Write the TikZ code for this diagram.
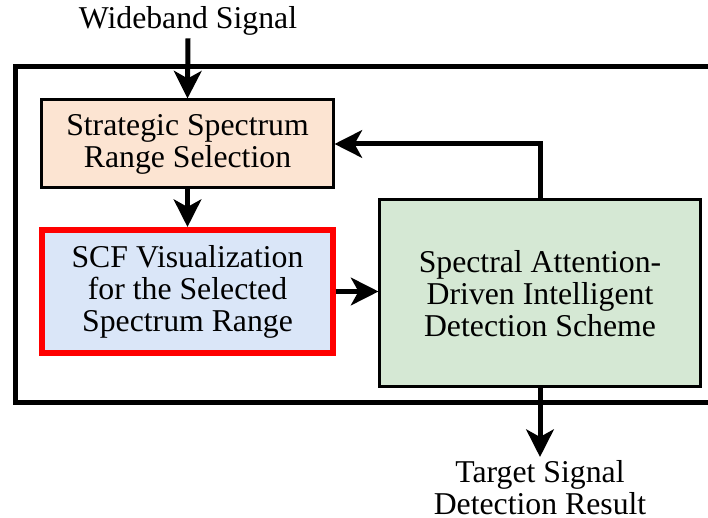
\documentclass[tikz,border=0pt]{standalone}
\usepackage{fontspec}
\setmainfont{Liberation Serif}
\usetikzlibrary{arrows.meta,shadows}
\definecolor{rangefill}{HTML}{FCE4D2}
\definecolor{scffill}{HTML}{DAE6F8}
\definecolor{detfill}{HTML}{D5E8D4}
\tikzset{
    blockbox/.style={draw=black, line width=1.2pt, align=center, inner sep=0pt,
        font=\fontsize{12.7}{12.8}\selectfont},
    arr/.style={line width=2pt, -{Stealth[length=11pt, width=11pt, inset=3pt]}},
    lbl/.style={align=center, inner sep=1pt, font=\fontsize{12.7}{12.8}\selectfont}
}
\begin{document}
\begin{tikzpicture}[x=0.4pt, y=-0.4pt]
    \useasboundingbox (0,0) rectangle (708,518);
    \clip (0,0) rectangle (708,518);
    % outer frame
    \draw[line width=2pt] (15,67) rectangle (740,403);
    % blocks
    \node[blockbox, fill=rangefill, minimum width=116.4pt, minimum height=35.2pt] (range) at (187.5,144) {Strategic Spectrum\\Range Selection};
    \node[blockbox, draw=red, line width=2.4pt, fill=scffill, minimum width=116.4pt, minimum height=49.2pt,
        drop shadow={shadow xshift=1.2pt, shadow yshift=-1.2pt, opacity=0.35}] (scf) at (187.5,291.5) {SCF Visualization\\for the Selected\\Spectrum Range};
    \node[blockbox, fill=detfill, minimum width=128pt, minimum height=74.8pt] (detect) at (540,293.5) {Spectral Attention-\\Driven Intelligent\\Detection Scheme};
    % input and output labels
    \node[lbl] (wide) at (188,21) {Wideband Signal};
    \node[lbl, anchor=north] (target) at (540,457) {Target Signal\\Detection Result};
    % connectors
    \draw[arr] (wide.south) -- (range.north);
    \draw[arr] (range.south) -- (scf.north);
    \draw[arr] (scf.east) -- (scf.east -| detect.west);
    \draw[arr] (detect.north) |- (range.east);
    \draw[arr] (detect.south) -- (target.north);
\end{tikzpicture}
\end{document}
